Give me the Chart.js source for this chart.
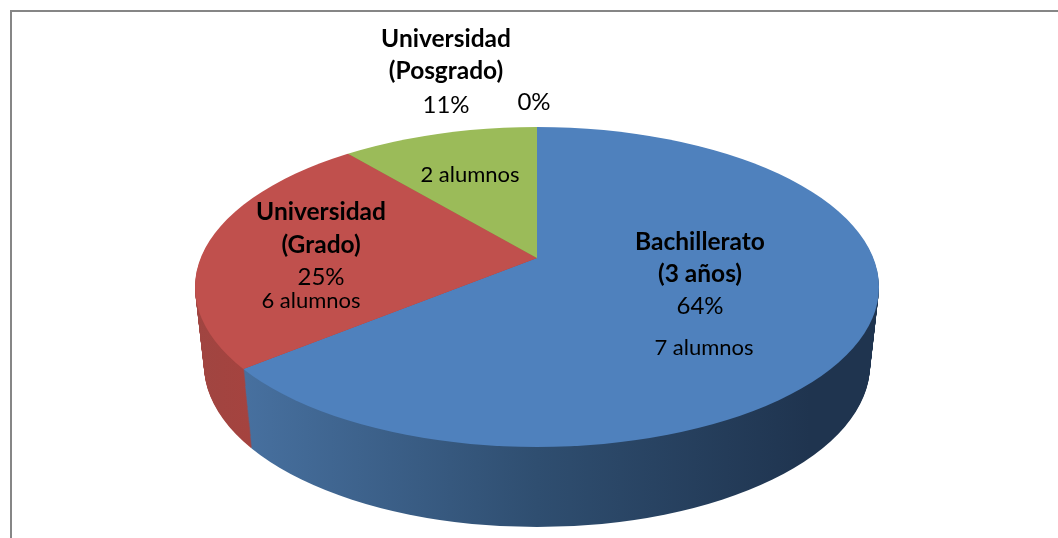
<!DOCTYPE html>
<html><head><meta charset="utf-8">
<style>html,body{margin:0;padding:0;background:#fff;overflow:hidden}canvas{display:block}</style>
<script src="https://cdn.jsdelivr.net/npm/chart.js@4"></script>
</head><body><canvas id="c" width="1058" height="538"></canvas>
<script>
const categories = ["Bachillerato (3 años)", "Universidad (Grado)", "Universidad (Posgrado)", "Otros"];
const percentValues = [64, 25, 11, 0];
const studentLabels = ["7 alumnos", "6 alumnos", "2 alumnos", ""];
const nameLines = [["Bachillerato", "(3 años)"], ["Universidad", "(Grado)"], ["Universidad", "(Posgrado)"], []];
const topColors = ["#4f81bd", "#c0504d", "#9bbb59", "#8064a2"];

const geo = {cx:537, cy:287, rx:342, ry:160, apexDy:-29, depth:78, rxLoss:9, ryGain:2, aspect:2.19};
const wallStops = [
  [[245,"#47709f"],[537,"#2f4e70"],[810,"#1f344f"],[880,"#1f344f"]],
  [[195,"#a04541"],[250,"#a5433f"]],
  [[195,"#7a8f44"],[540,"#7a8f44"]],
  [[195,"#5f4b7a"],[540,"#5f4b7a"]]
];
const textLayout = [
  {x:700, name:[242,274], pct:[700,306], st:[704,348]},
  {x:321, name:[212,245], pct:[321,277], st:[311,301]},
  {x:446, name:[39,71],   pct:[446,105], st:[470,175]},
  {x:534, name:[],        pct:[534,102], st:[534,102]}
];
const FONT = "Lato, Carlito, sans-serif";

const pie3d = {
  id:"pie3d",
  beforeDraw(chart){
    const c = chart.ctx;
    c.save();
    c.fillStyle="#fff"; c.fillRect(0,0,1058,538);
    c.strokeStyle="#868686"; c.lineWidth=2;
    c.beginPath(); c.moveTo(11,538); c.lineTo(11,11); c.lineTo(1058,11); c.stroke();
    c.restore();
  },
  beforeDatasetsDraw(chart){
    const c = chart.ctx, arcs = chart.getDatasetMeta(0).data;
    const base = arcs.map(a=>a.options);
    const layer = (d, wall) => {
      const f = d/geo.depth;
      const rx = geo.rx-geo.rxLoss*f, ry = geo.ry+geo.ryGain*f, cy = geo.cy+d;
      const sy = ry/geo.ry, sx = geo.aspect*rx/geo.rx;
      const ay = cy+geo.apexDy*sy;
      c.save();
      c.beginPath(); c.ellipse(geo.cx,cy,rx,ry,0,0,Math.PI*2); c.clip();
      c.translate(geo.cx,ay); c.scale(sx,sy); c.translate(-arcs[0].x,-arcs[0].y);
      arcs.forEach((a,i)=>{
        if(wall){
          const st = wallStops[i];
          const x0=st[0][0], x1=st[st.length-1][0];
          const lx = X=>arcs[0].x+(X-geo.cx)/sx;
          const g = c.createLinearGradient(lx(x0),0,lx(x1),0);
          st.forEach(s=>g.addColorStop((s[0]-x0)/(x1-x0),s[1]));
          a.options = Object.assign({},base[i],{backgroundColor:g,borderColor:g});
        } else a.options = base[i];
        a.draw(c);
      });
      c.restore();
    };
    for(let d=geo.depth;d>=1;d--) layer(d,true);
    layer(0,false);
    arcs.forEach((a,i)=>a.options=base[i]);
    return false;
  },
  afterDraw(chart){
    const c = chart.ctx;
    c.save(); c.fillStyle="#000"; c.textAlign="center"; c.textBaseline="middle";
    categories.forEach((_,i)=>{
      const t = textLayout[i];
      c.font = "bold 24.5px "+FONT;
      nameLines[i].forEach((s,j)=>c.fillText(s,t.x,t.name[j]));
      c.font = "24px "+FONT;
      c.fillText(percentValues[i]+"%",t.pct[0],t.pct[1]);
      if(studentLabels[i]){ c.font = "22px "+FONT; c.fillText(studentLabels[i],t.st[0],t.st[1]); }
    });
    c.restore();
  }
};

new Chart(document.getElementById("c"),{
  type:"pie",
  data:{labels:categories,datasets:[{data:percentValues,backgroundColor:topColors,borderWidth:0}]},
  options:{responsive:false,animation:false,events:[],
    plugins:{legend:{display:false},tooltip:{enabled:false}}},
  plugins:[pie3d]
});
</script></body></html>
